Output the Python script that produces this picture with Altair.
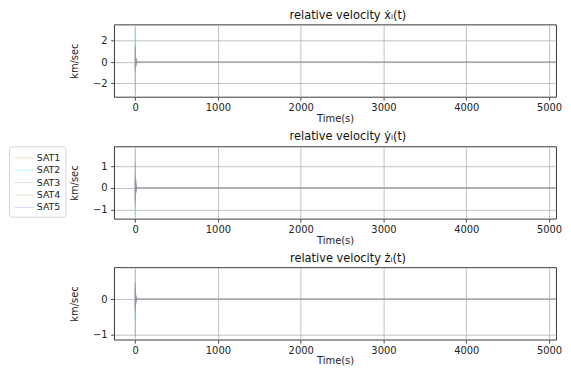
import altair as alt
import pandas as pd

sats = ["SAT1", "SAT2", "SAT3", "SAT4", "SAT5"]
sat_colors = ["#f08a6a", "#38dbe8", "#a8a8b0", "#c9ad6a", "#8c8cd0"]

t = [0, 2, 4, 6, 8, 10, 12, 15, 18, 21, 25, 30, 40, 5200]

# relative velocity x-dot (km/sec)
vx = {
    "SAT1": [-2.95, 1.20, -0.80, 0.50, -0.40, 0.30, -0.20, 0.15, -0.10, 0.08, -0.05, 0.03, 0.01, 0.0],
    "SAT2": [3.22, -1.00, 0.70, -0.50, 0.35, -0.25, 0.18, -0.12, 0.08, -0.05, 0.03, -0.02, 0.0, 0.0],
    "SAT3": [1.70, -0.90, 0.60, -0.40, 0.30, -0.20, 0.25, 0.10, -0.08, 0.05, 0.02, 0.0, 0.0, 0.0],
    "SAT4": [-1.80, 0.80, -0.60, 0.40, -0.25, 0.20, -0.30, 0.10, -0.06, 0.04, -0.02, 0.01, 0.0, 0.0],
    "SAT5": [0.90, 1.50, -0.70, 0.30, -0.30, 0.15, 0.30, -0.10, 0.05, -0.03, 0.02, 0.0, 0.0, 0.0],
}
# relative velocity y-dot (km/sec)
vy = {
    "SAT1": [0.60, -0.50, 0.30, -0.20, 0.15, -0.10, 0.08, -0.05, 0.03, -0.02, 0.01, 0.0, 0.0, 0.0],
    "SAT2": [-1.27, 0.60, -0.40, 0.30, -0.20, 0.15, -0.10, 0.05, -0.03, 0.02, 0.0, 0.0, 0.0, 0.0],
    "SAT3": [1.76, -0.80, 0.50, -0.30, 0.40, -0.20, 0.10, -0.06, 0.04, -0.02, 0.01, 0.0, 0.0, 0.0],
    "SAT4": [-0.90, 0.50, -0.30, 0.20, -0.15, 0.30, -0.10, 0.05, -0.03, 0.02, 0.0, 0.0, 0.0, 0.0],
    "SAT5": [1.20, -0.60, 0.40, -0.25, 0.20, -0.10, 0.06, -0.04, 0.02, 0.0, 0.0, 0.0, 0.0, 0.0],
}
# relative velocity z-dot (km/sec)
vz = {
    "SAT1": [0.50, -0.30, 0.20, -0.15, 0.10, -0.06, 0.04, -0.02, 0.01, 0.0, 0.0, 0.0, 0.0, 0.0],
    "SAT2": [-0.60, 0.30, -0.20, 0.12, -0.08, 0.05, -0.03, 0.02, 0.0, 0.0, 0.0, 0.0, 0.0, 0.0],
    "SAT3": [0.30, -0.20, 0.15, -0.10, 0.06, -0.04, 0.02, 0.0, 0.0, 0.0, 0.0, 0.0, 0.0, 0.0],
    "SAT4": [0.807, -0.40, 0.25, -0.15, 0.10, -0.06, 0.04, -0.02, 0.01, 0.0, 0.0, 0.0, 0.0, 0.0],
    "SAT5": [-1.057, 0.45, -0.30, 0.20, -0.12, 0.08, -0.05, 0.03, -0.01, 0.0, 0.0, 0.0, 0.0, 0.0],
}

titles = ["relative velocity ẋᵢ(t)", "relative velocity ẏᵢ(t)", "relative velocity żᵢ(t)"]
y_domains = [[-3.26, 3.53], [-1.42, 1.91], [-1.15, 0.90]]
y_ticks = [[-2, 0, 2], [-1, 0, 1], [-1, 0]]
x_domain = [-255, 5085]
x_ticks = [0, 1000, 2000, 3000, 4000, 5000]


def long_df(d):
    rows = []
    for s in sats:
        for ti, v in zip(t, d[s]):
            rows.append({"t": ti, "v": v, "sat": s})
    return pd.DataFrame(rows)


def panel(d, title, ydom, yticks, show_legend):
    legend = None
    if show_legend:
        legend = alt.Legend(
            title=None, orient="left", offset=4,
            symbolType="M-1,0H2.3", symbolSize=144, symbolStrokeWidth=1,
            symbolOpacity=0.35, labelOffset=10, labelFontSize=9.5,
            rowPadding=1.5, padding=5, strokeColor="#d4d4d4", cornerRadius=3,
            fillColor="white",
        )
    return alt.Chart(long_df(d)).mark_line(strokeWidth=0.9, opacity=0.5, clip=True).encode(
        x=alt.X("t:Q", title="Time(s)",
                scale=alt.Scale(domain=x_domain, nice=False, zero=False),
                axis=alt.Axis(values=x_ticks, format="d")),
        y=alt.Y("v:Q", title="km/sec",
                scale=alt.Scale(domain=ydom, nice=False, zero=False),
                axis=alt.Axis(values=yticks, format="d",
                              labelExpr="replace(datum.label, '-', '\u2212')")),
        color=alt.Color("sat:N", scale=alt.Scale(domain=sats, range=sat_colors), legend=legend),
        detail="sat:N",
    ).properties(
        width=446, height=73,
        title=alt.TitleParams(title, dx=13),
    )


charts = [
    panel(vx, titles[0], y_domains[0], y_ticks[0], False),
    panel(vy, titles[1], y_domains[1], y_ticks[1], True),
    panel(vz, titles[2], y_domains[2], y_ticks[2], False),
]

chart = alt.vconcat(*charts, spacing=7).resolve_scale(color="independent").properties(
    padding=0
).configure(
    font="DejaVu Sans",
).configure_view(
    stroke="#222", strokeWidth=0.9,
).configure_axis(
    grid=True, gridColor="#b0b0b0", gridWidth=0.8,
    domain=False, tickColor="#222", tickSize=3.5, tickWidth=0.8,
    labelFontSize=10, labelColor="#222", labelPadding=2,
    titleFontSize=10, titleFontWeight="normal", titleColor="#222",
    titlePadding=1,
).configure_axisY(
    titlePadding=13, labelPadding=3.5,
).configure_title(
    fontSize=11.5, fontWeight="normal", color="#111", offset=3, anchor="middle",
    font="DejaVu Sans",
).configure_legend(
    labelColor="#222", labelFont="DejaVu Sans",
)

chart.save("out.html", embed_options={"renderer": "svg", "actions": False})
